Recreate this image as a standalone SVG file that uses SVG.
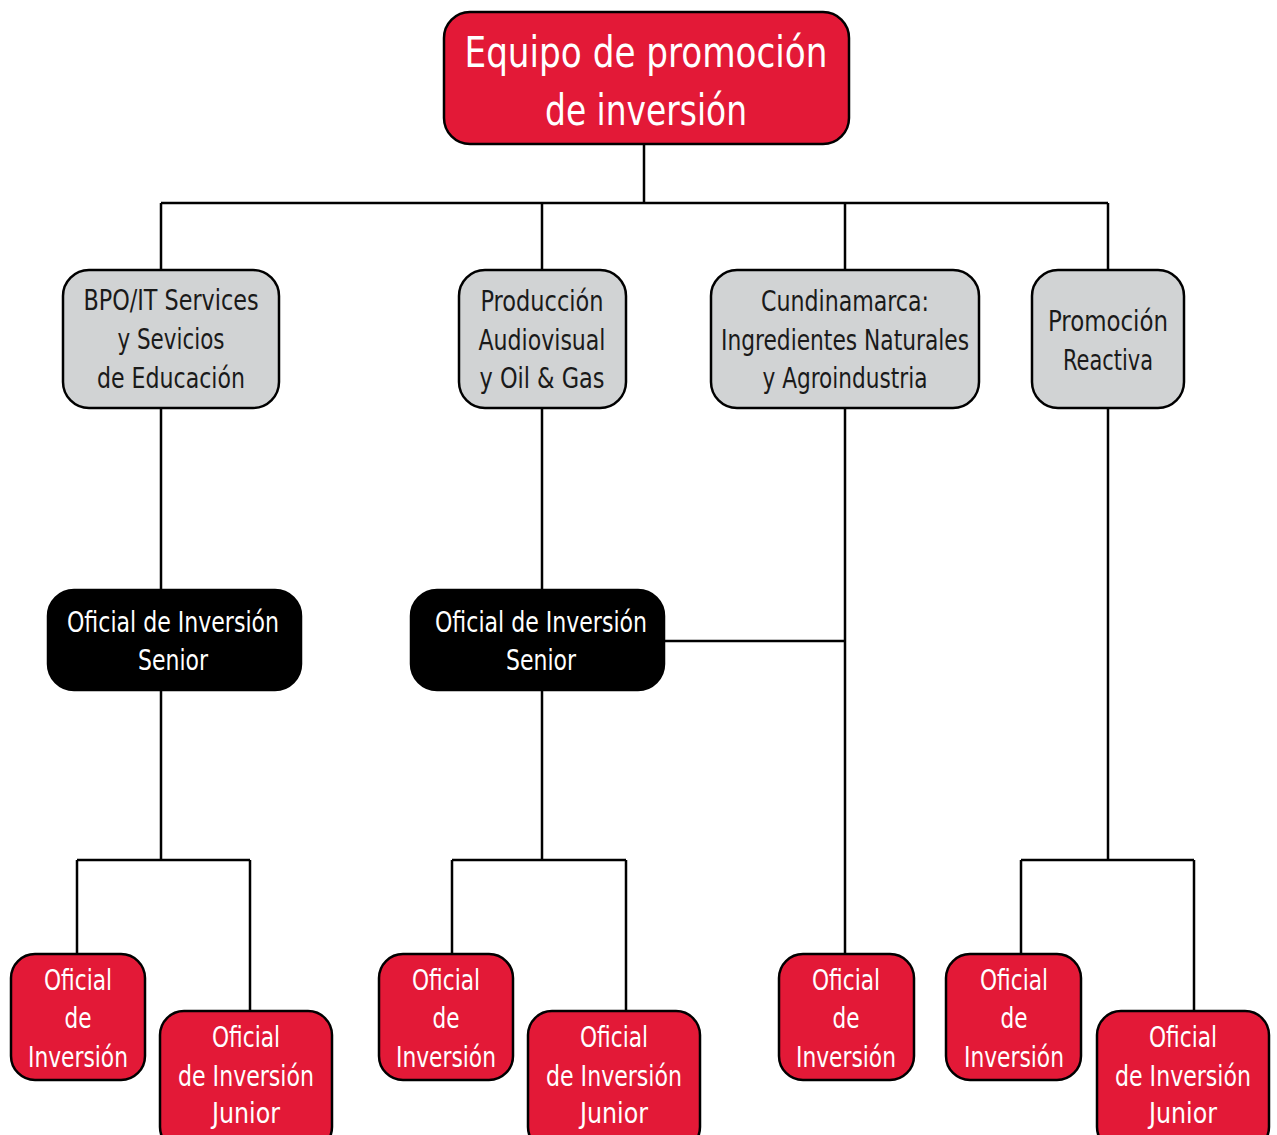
<svg xmlns="http://www.w3.org/2000/svg" width="1277" height="1135" viewBox="0 0 1277 1135">
<style>
.box{stroke:#000;stroke-width:2.5}
.red{fill:#E31937}
.gray{fill:#D1D3D4}
.blk{fill:#000}
text{font-family:"Liberation Sans Narrow","DejaVu Sans Condensed","Liberation Sans",sans-serif;text-anchor:middle}
.w{fill:#fff}
.k{fill:#1a1a1a}
.t1{font-size:42px}
.t2{font-size:28px}
.conn{stroke:#000;stroke-width:2.5;fill:none}
</style>
<rect width="1277" height="1135" fill="#fff"/>
<g id="connectors" class="conn">
<path d="M644 144V203M161 203H1108M161 203V270M542 203V270M845 203V270M1108 203V270"/>
<path d="M161 408V590M542 408V590M845 408V954M1108 408V860M664 641H845"/>
<path d="M161 690V860M77 860H250M77 860V954M250 860V1011"/>
<path d="M542 690V860M452 860H626M452 860V954M626 860V1011"/>
<path d="M1021 860H1194M1021 860V954M1194 860V1011"/>
</g>
<g id="top">
<rect class="box red" x="444" y="12" width="405" height="132" rx="26"/>
<text class="w t1" x="646" y="67" textLength="363" lengthAdjust="spacingAndGlyphs">Equipo de promoción</text>
<text class="w t1" x="646" y="125" textLength="202" lengthAdjust="spacingAndGlyphs">de inversión</text>
</g>
<g id="bpo">
<rect class="box gray" x="63" y="270" width="216" height="138" rx="26"/>
<text class="k t2" x="171" y="310" textLength="175" lengthAdjust="spacingAndGlyphs">BPO/IT Services</text>
<text class="k t2" x="171" y="349" textLength="107" lengthAdjust="spacingAndGlyphs">y Sevicios</text>
<text class="k t2" x="171" y="388" textLength="148" lengthAdjust="spacingAndGlyphs">de Educación</text>
</g>
<g id="produccion">
<rect class="box gray" x="459" y="270" width="167" height="138" rx="26"/>
<text class="k t2" x="542" y="311" textLength="123" lengthAdjust="spacingAndGlyphs">Producción</text>
<text class="k t2" x="542" y="350" textLength="127" lengthAdjust="spacingAndGlyphs">Audiovisual</text>
<text class="k t2" x="542" y="388" textLength="125" lengthAdjust="spacingAndGlyphs">y Oil &amp; Gas</text>
</g>
<g id="cundinamarca">
<rect class="box gray" x="711" y="270" width="268" height="138" rx="26"/>
<text class="k t2" x="845" y="311" textLength="168" lengthAdjust="spacingAndGlyphs">Cundinamarca:</text>
<text class="k t2" x="845" y="350" textLength="248" lengthAdjust="spacingAndGlyphs">Ingredientes Naturales</text>
<text class="k t2" x="845" y="388" textLength="165" lengthAdjust="spacingAndGlyphs">y Agroindustria</text>
</g>
<g id="reactiva">
<rect class="box gray" x="1032" y="270" width="152" height="138" rx="26"/>
<text class="k t2" x="1108" y="331" textLength="120" lengthAdjust="spacingAndGlyphs">Promoción</text>
<text class="k t2" x="1108" y="370" textLength="90" lengthAdjust="spacingAndGlyphs">Reactiva</text>
</g>
<g id="senior1">
<rect class="box blk" x="48" y="590" width="253" height="100" rx="26"/>
<text class="w t2" x="173" y="632" textLength="212" lengthAdjust="spacingAndGlyphs">Oficial de Inversión</text>
<text class="w t2" x="173" y="670" textLength="70" lengthAdjust="spacingAndGlyphs">Senior</text>
</g>
<g id="senior2">
<rect class="box blk" x="411" y="590" width="253" height="100" rx="26"/>
<text class="w t2" x="541" y="632" textLength="212" lengthAdjust="spacingAndGlyphs">Oficial de Inversión</text>
<text class="w t2" x="541" y="670" textLength="70" lengthAdjust="spacingAndGlyphs">Senior</text>
</g>
<g id="oficial1">
<rect class="box red" x="11" y="954" width="134" height="126" rx="24"/>
<text class="w t2" x="78" y="990" textLength="68" lengthAdjust="spacingAndGlyphs">Oficial</text>
<text class="w t2" x="78" y="1028" textLength="27" lengthAdjust="spacingAndGlyphs">de</text>
<text class="w t2" x="78" y="1067" textLength="100" lengthAdjust="spacingAndGlyphs">Inversión</text>
</g>
<g id="junior1">
<rect class="box red" x="160" y="1011" width="172" height="140" rx="24"/>
<text class="w t2" x="246" y="1047" textLength="68" lengthAdjust="spacingAndGlyphs">Oficial</text>
<text class="w t2" x="246" y="1086" textLength="136" lengthAdjust="spacingAndGlyphs">de Inversión</text>
<text class="w t2" x="246" y="1123" textLength="68" lengthAdjust="spacingAndGlyphs">Junior</text>
</g>
<g id="oficial2">
<rect class="box red" x="379" y="954" width="134" height="126" rx="24"/>
<text class="w t2" x="446" y="990" textLength="68" lengthAdjust="spacingAndGlyphs">Oficial</text>
<text class="w t2" x="446" y="1028" textLength="27" lengthAdjust="spacingAndGlyphs">de</text>
<text class="w t2" x="446" y="1067" textLength="100" lengthAdjust="spacingAndGlyphs">Inversión</text>
</g>
<g id="junior2">
<rect class="box red" x="528" y="1011" width="172" height="140" rx="24"/>
<text class="w t2" x="614" y="1047" textLength="68" lengthAdjust="spacingAndGlyphs">Oficial</text>
<text class="w t2" x="614" y="1086" textLength="136" lengthAdjust="spacingAndGlyphs">de Inversión</text>
<text class="w t2" x="614" y="1123" textLength="68" lengthAdjust="spacingAndGlyphs">Junior</text>
</g>
<g id="oficial3">
<rect class="box red" x="779" y="954" width="135" height="126" rx="24"/>
<text class="w t2" x="846" y="990" textLength="68" lengthAdjust="spacingAndGlyphs">Oficial</text>
<text class="w t2" x="846" y="1028" textLength="27" lengthAdjust="spacingAndGlyphs">de</text>
<text class="w t2" x="846" y="1067" textLength="100" lengthAdjust="spacingAndGlyphs">Inversión</text>
</g>
<g id="oficial4">
<rect class="box red" x="946" y="954" width="135" height="126" rx="24"/>
<text class="w t2" x="1014" y="990" textLength="68" lengthAdjust="spacingAndGlyphs">Oficial</text>
<text class="w t2" x="1014" y="1028" textLength="27" lengthAdjust="spacingAndGlyphs">de</text>
<text class="w t2" x="1014" y="1067" textLength="100" lengthAdjust="spacingAndGlyphs">Inversión</text>
</g>
<g id="junior3">
<rect class="box red" x="1097" y="1011" width="172" height="140" rx="24"/>
<text class="w t2" x="1183" y="1047" textLength="68" lengthAdjust="spacingAndGlyphs">Oficial</text>
<text class="w t2" x="1183" y="1086" textLength="136" lengthAdjust="spacingAndGlyphs">de Inversión</text>
<text class="w t2" x="1183" y="1123" textLength="68" lengthAdjust="spacingAndGlyphs">Junior</text>
</g>
</svg>
